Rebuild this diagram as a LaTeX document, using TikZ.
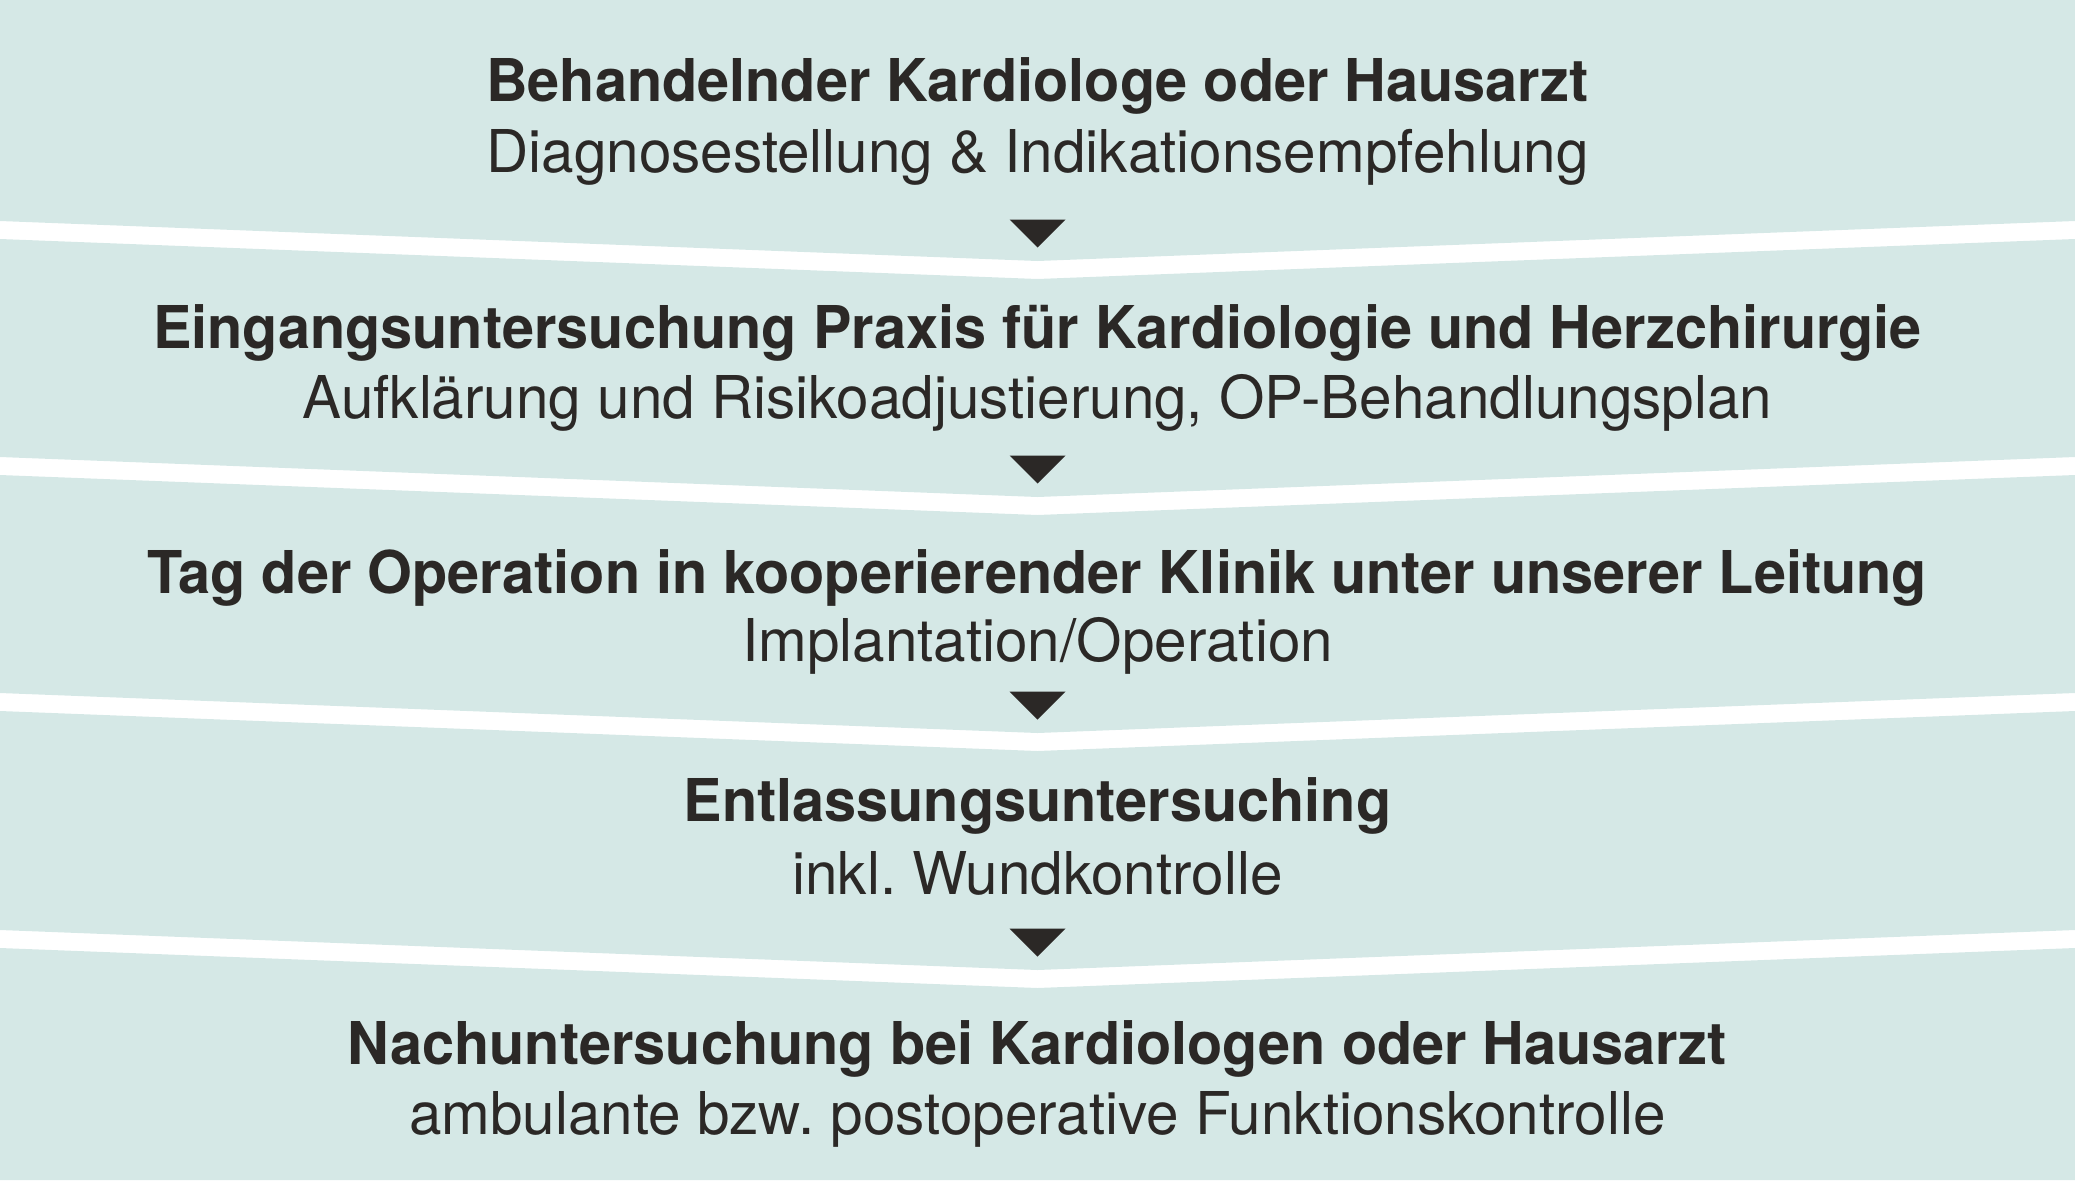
\documentclass[tikz,border=0pt]{standalone}
\usepackage{fontspec}
\setmainfont{TeX Gyre Heros}
\newfontfamily\titlefont{TeX Gyre Heros}[FakeStretch=0.977]
\newfontfamily\subfont{TeX Gyre Heros}[FakeStretch=0.99]
\definecolor{band}{RGB}{213,232,230}
\definecolor{ink}{RGB}{43,40,38}
\frenchspacing
\begin{document}
\begin{tikzpicture}[x=1bp,y=-1bp,
  bandfill/.style={fill=band},
  titletext/.style={anchor=base,inner sep=0pt,text=ink,font=\titlefont\fontsize{59bp}{70bp}\selectfont\bfseries},
  subtext/.style={anchor=base,inner sep=0pt,text=ink,font=\subfont\fontsize{59bp}{70bp}\selectfont},
  tri/.style={fill=ink}]
\useasboundingbox (0,0) rectangle (2075,1180);
% bands
\fill[bandfill] (0,0) -- (2075,0) -- (2075,221) -- (1037.5,261) -- (0,221) -- cycle;
\fill[bandfill] (0,239) -- (1037.5,279) -- (2075,239) -- (2075,457) -- (1037.5,497) -- (0,457) -- cycle;
\fill[bandfill] (0,475) -- (1037.5,515) -- (2075,475) -- (2075,693) -- (1037.5,733) -- (0,693) -- cycle;
\fill[bandfill] (0,711) -- (1037.5,751) -- (2075,711) -- (2075,930) -- (1037.5,970) -- (0,930) -- cycle;
\fill[bandfill] (0,948) -- (1037.5,988) -- (2075,948) -- (2075,1180) -- (0,1180) -- cycle;
% arrow triangles
\foreach \n/\y in {1/219.5,2/455.5,3/691.5,4/928.5}{
  \coordinate (a\n) at (1037.5,\y);
  \fill[tri] (a\n) ++(-28,0) -- ++(56,0) -- ++(-28,28) -- cycle;
}
% texts
\node[titletext] (t1) at (1037.5,101) {Behandelnder Kardiologe oder Hausarzt};
\node[subtext] (s1) at (1037.5,172) {Diagnosestellung \& Indikationsempfehlung};
\node[titletext] (t2) at (1037.5,348) {Eingangsuntersuchung Praxis für Kardiologie und Herzchirurgie};
\node[subtext] (s2) at (1037.5,418) {Aufklärung und Risikoadjustierung, OP-Behandlungsplan};
\node[titletext] (t3) at (1037.5,593) {Tag der Operation in kooperierender Klinik unter unserer Leitung};
\node[subtext] (s3) at (1037.5,661) {Implantation/Operation};
\node[titletext] (t4) at (1037.5,821) {Entlassungsuntersuching};
\node[subtext] (s4) at (1037.5,894) {inkl. Wundkontrolle};
\node[titletext] (t5) at (1037.5,1064) {Nachuntersuchung bei Kardiologen oder Hausarzt};
\node[subtext] (s5) at (1037.5,1134) {ambulante bzw. postoperative Funktionskontrolle};
\end{tikzpicture}
\end{document}
